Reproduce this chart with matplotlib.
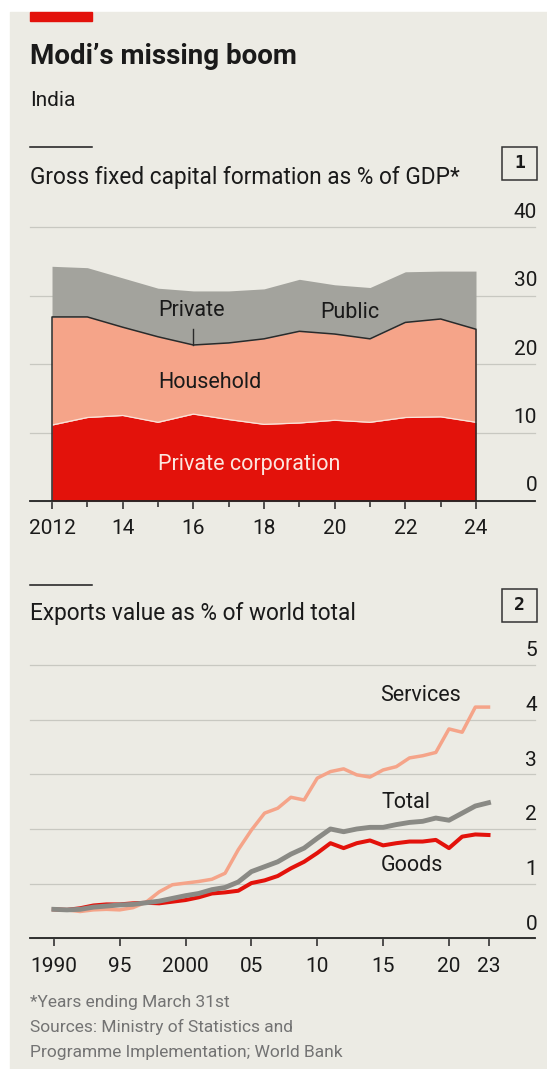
import numpy as np
import matplotlib
matplotlib.use("Agg")
import matplotlib.pyplot as plt
import matplotlib.transforms as mtransforms
from matplotlib.patches import Rectangle
from matplotlib.lines import Line2D

plt.rcParams['font.family'] = ['Roboto', 'DejaVu Sans']

W, H = 547, 1069

# chart 1: gross fixed capital formation, % of GDP (years ending March 31st)
gfcf_years = np.arange(2012, 2025)
private_corp = [11.1, 12.2, 12.5, 11.5, 12.7, 11.9, 11.2, 11.4, 11.8, 11.5, 12.2, 12.3, 11.5]
household = [15.8, 14.7, 12.9, 12.5, 10.1, 11.2, 12.5, 13.4, 12.6, 12.2, 13.9, 14.3, 13.6]
public = [7.4, 7.2, 7.2, 7.1, 7.9, 7.6, 7.3, 7.6, 7.2, 7.5, 7.4, 7.0, 8.5]
gfcf_ticks = [2012, 2014, 2016, 2018, 2020, 2022, 2024]
gfcf_ticklabels = ["2012", "14", "16", "18", "20", "22", "24"]
gfcf_yticks = [0, 10, 20, 30, 40]

# chart 2: exports value as % of world total
exp_years = np.arange(1990, 2024)
services = [0.53, 0.52, 0.49, 0.52, 0.53, 0.52, 0.56, 0.66, 0.85, 0.98, 1.01, 1.04, 1.08, 1.19,
            1.62, 1.98, 2.29, 2.38, 2.58, 2.53, 2.93, 3.05, 3.10, 2.99, 2.95, 3.08, 3.14, 3.30,
            3.34, 3.40, 3.83, 3.77, 4.23, 4.23]
total = [0.53, 0.52, 0.53, 0.57, 0.59, 0.61, 0.62, 0.65, 0.68, 0.73, 0.78, 0.82, 0.89, 0.93,
         1.03, 1.22, 1.31, 1.40, 1.54, 1.65, 1.83, 2.00, 1.95, 2.00, 2.03, 2.03, 2.08, 2.12,
         2.14, 2.20, 2.16, 2.29, 2.42, 2.48]
goods = [0.53, 0.52, 0.55, 0.60, 0.62, 0.62, 0.64, 0.65, 0.64, 0.67, 0.70, 0.75, 0.82, 0.84,
         0.87, 1.01, 1.06, 1.14, 1.28, 1.40, 1.56, 1.74, 1.65, 1.74, 1.79, 1.70, 1.74, 1.77,
         1.77, 1.80, 1.65, 1.86, 1.90, 1.89]
exp_ticks = [1990, 1995, 2000, 2005, 2010, 2015, 2020, 2023]
exp_ticklabels = ["1990", "95", "2000", "05", "10", "15", "20", "23"]
exp_yticks = [0, 1, 2, 3, 4, 5]

RED = '#E3120B'
SALMON = '#F5A489'
GREY_FILL = '#A3A39D'
GREY_LINE = '#8A8A85'
BG = '#ECEBE4'
GRID = '#C8C8C1'
INK = '#1A1A1A'


def fx(x):
    return x / W


def fy(y):
    return 1 - y / H


def box(x0, y0, x1, y1):
    return [fx(x0), fy(y1), (x1 - x0) / W, (y1 - y0) / H]


fig = plt.figure(figsize=(W / 100, H / 100), dpi=100, facecolor='white')

# beige panel + red tag (kept behind the axes)
fig.patches.append(Rectangle((fx(10), 0), 1 - fx(10), fy(12), transform=fig.transFigure,
                             color=BG, zorder=-2))
fig.patches.append(Rectangle((fx(30), fy(21)), fx(92) - fx(30), fy(12) - fy(21),
                             transform=fig.transFigure, color=RED, zorder=-1))

fig.text(fx(30), fy(63.5), "Modi\u2019s missing boom", fontsize=20, fontweight='bold',
         color=INK, va='baseline')
fig.text(fx(30), fy(106), "India", fontsize=15, color=INK, va='baseline')


def panel_header(y_rule, y_text, text, num, y_box):
    fig.add_artist(Line2D([fx(30), fx(92)], [fy(y_rule), fy(y_rule)], color=INK, lw=1.1,
                          transform=fig.transFigure))
    fig.text(fx(30), fy(y_text), text, fontsize=16.3, color=INK, va='baseline')
    fig.patches.append(Rectangle((fx(502), fy(y_box + 33)), fx(537) - fx(502), 33 / H,
                                 transform=fig.transFigure, fill=False, ec='#333333', lw=1.1))
    fig.text(fx(519.5), fy(y_box + 16.5), num, fontsize=13, color=INK, ha='center', va='center',
             family='DejaVu Sans Mono', fontweight='bold')


def style_axes(ax, yticks, yoff):
    ax.set_facecolor('none')
    for s in ['top', 'left', 'right']:
        ax.spines[s].set_visible(False)
    ax.spines['bottom'].set_color('#222222')
    ax.spines['bottom'].set_linewidth(1.3)
    ax.spines['bottom'].set_zorder(5)
    ax.set_yticks(yticks)
    ax.yaxis.grid(True, color=GRID, lw=0.9)
    for gl in ax.get_ygridlines():
        gl.set_clip_on(False)
    ax.set_axisbelow(True)
    ax.tick_params(axis='y', length=0, labelleft=False)
    ax.tick_params(axis='x', which='both', width=1.1, color='#222222', labelsize=15,
                   labelcolor=INK, pad=7.5)
    ax.tick_params(axis='x', which='major', length=5.8)
    ax.tick_params(axis='x', which='minor', length=4.3)
    trans = mtransforms.blended_transform_factory(ax.transAxes, ax.transData)
    for v in yticks:
        ax.text(1.004, v + yoff, str(v), transform=trans, ha='right', va='center',
                fontsize=15, color=INK)


# ---- chart 1 ----
panel_header(146.7, 184, "Gross fixed capital formation as % of GDP*", "1", 147)

ax1 = fig.add_axes(box(30, 227.3, 535, 501))
ax1.set_xlim(2011.377, 2025.67)
ax1.set_ylim(0, 40)
style_axes(ax1, gfcf_yticks, 2.2)
ax1.set_xticks(gfcf_ticks, gfcf_ticklabels)
ax1.set_xticks(gfcf_years[1::2], minor=True)

corp = np.array(private_corp)
priv = corp + np.array(household)
tot = priv + np.array(public)
ax1.fill_between(gfcf_years, 0, corp, color=RED, lw=0, zorder=2)
ax1.fill_between(gfcf_years, corp, priv, color=SALMON, lw=0, zorder=2)
ax1.fill_between(gfcf_years, priv, tot, color=GREY_FILL, lw=0, zorder=2)
ax1.plot(gfcf_years, corp, color='#FBE2D9', lw=0.9, zorder=3)
outline_x = np.concatenate([[gfcf_years[0]], gfcf_years, [gfcf_years[-1]]])
outline_y = np.concatenate([[0], priv, [0]])
ax1.plot(outline_x, outline_y, color='#2A2A2A', lw=1.1, zorder=3)
# pointer from "Private" label down to the boundary
ax1.plot([2016, 2016], [25.2, priv[4]], color='#2A2A2A', lw=1.0, zorder=3)

ax1.text(2015.0, 27.8, "Private", fontsize=15.5, color=INK, va='center', zorder=4)
ax1.text(2019.6, 27.6, "Public", fontsize=15.5, color=INK, va='center', zorder=4)
ax1.text(2015.0, 17.3, "Household", fontsize=15.5, color=INK, va='center', zorder=4)
ax1.text(2015.0, 5.3, "Private corporation", fontsize=15.5, color='#FCE6DF', va='center',
         zorder=4)

# ---- chart 2 ----
panel_header(585, 620, "Exports value as % of world total", "2", 589)

ax2 = fig.add_axes(box(30, 665, 535, 938.3))
ax2.set_xlim(1988.19, 2026.53)
ax2.set_ylim(0, 5)
style_axes(ax2, exp_yticks, 0.26)
ax2.set_xticks(exp_ticks, exp_ticklabels)

ax2.plot(exp_years, services, color=SALMON, lw=2.5, zorder=3, solid_joinstyle='round')
ax2.plot(exp_years, goods, color=RED, lw=2.9, zorder=3, solid_joinstyle='round')
ax2.plot(exp_years, total, color=GREY_LINE, lw=3.5, zorder=3, solid_joinstyle='round')

ax2.text(2014.8, 4.45, "Services", fontsize=15.5, color=INK, va='center')
ax2.text(2014.9, 2.48, "Total", fontsize=15.5, color=INK, va='center')
ax2.text(2014.85, 1.34, "Goods", fontsize=15.5, color=INK, va='center')

# ---- footer ----
foot = ["*Years ending March 31st",
        "Sources: Ministry of Statistics and",
        "Programme Implementation; World Bank"]
for i, line in enumerate(foot):
    fig.text(fx(30), fy(1006.7 + 25 * i), line, fontsize=12.5, color='#737373', va='baseline')

fig.savefig("out.png", dpi=100, facecolor=fig.get_facecolor())
